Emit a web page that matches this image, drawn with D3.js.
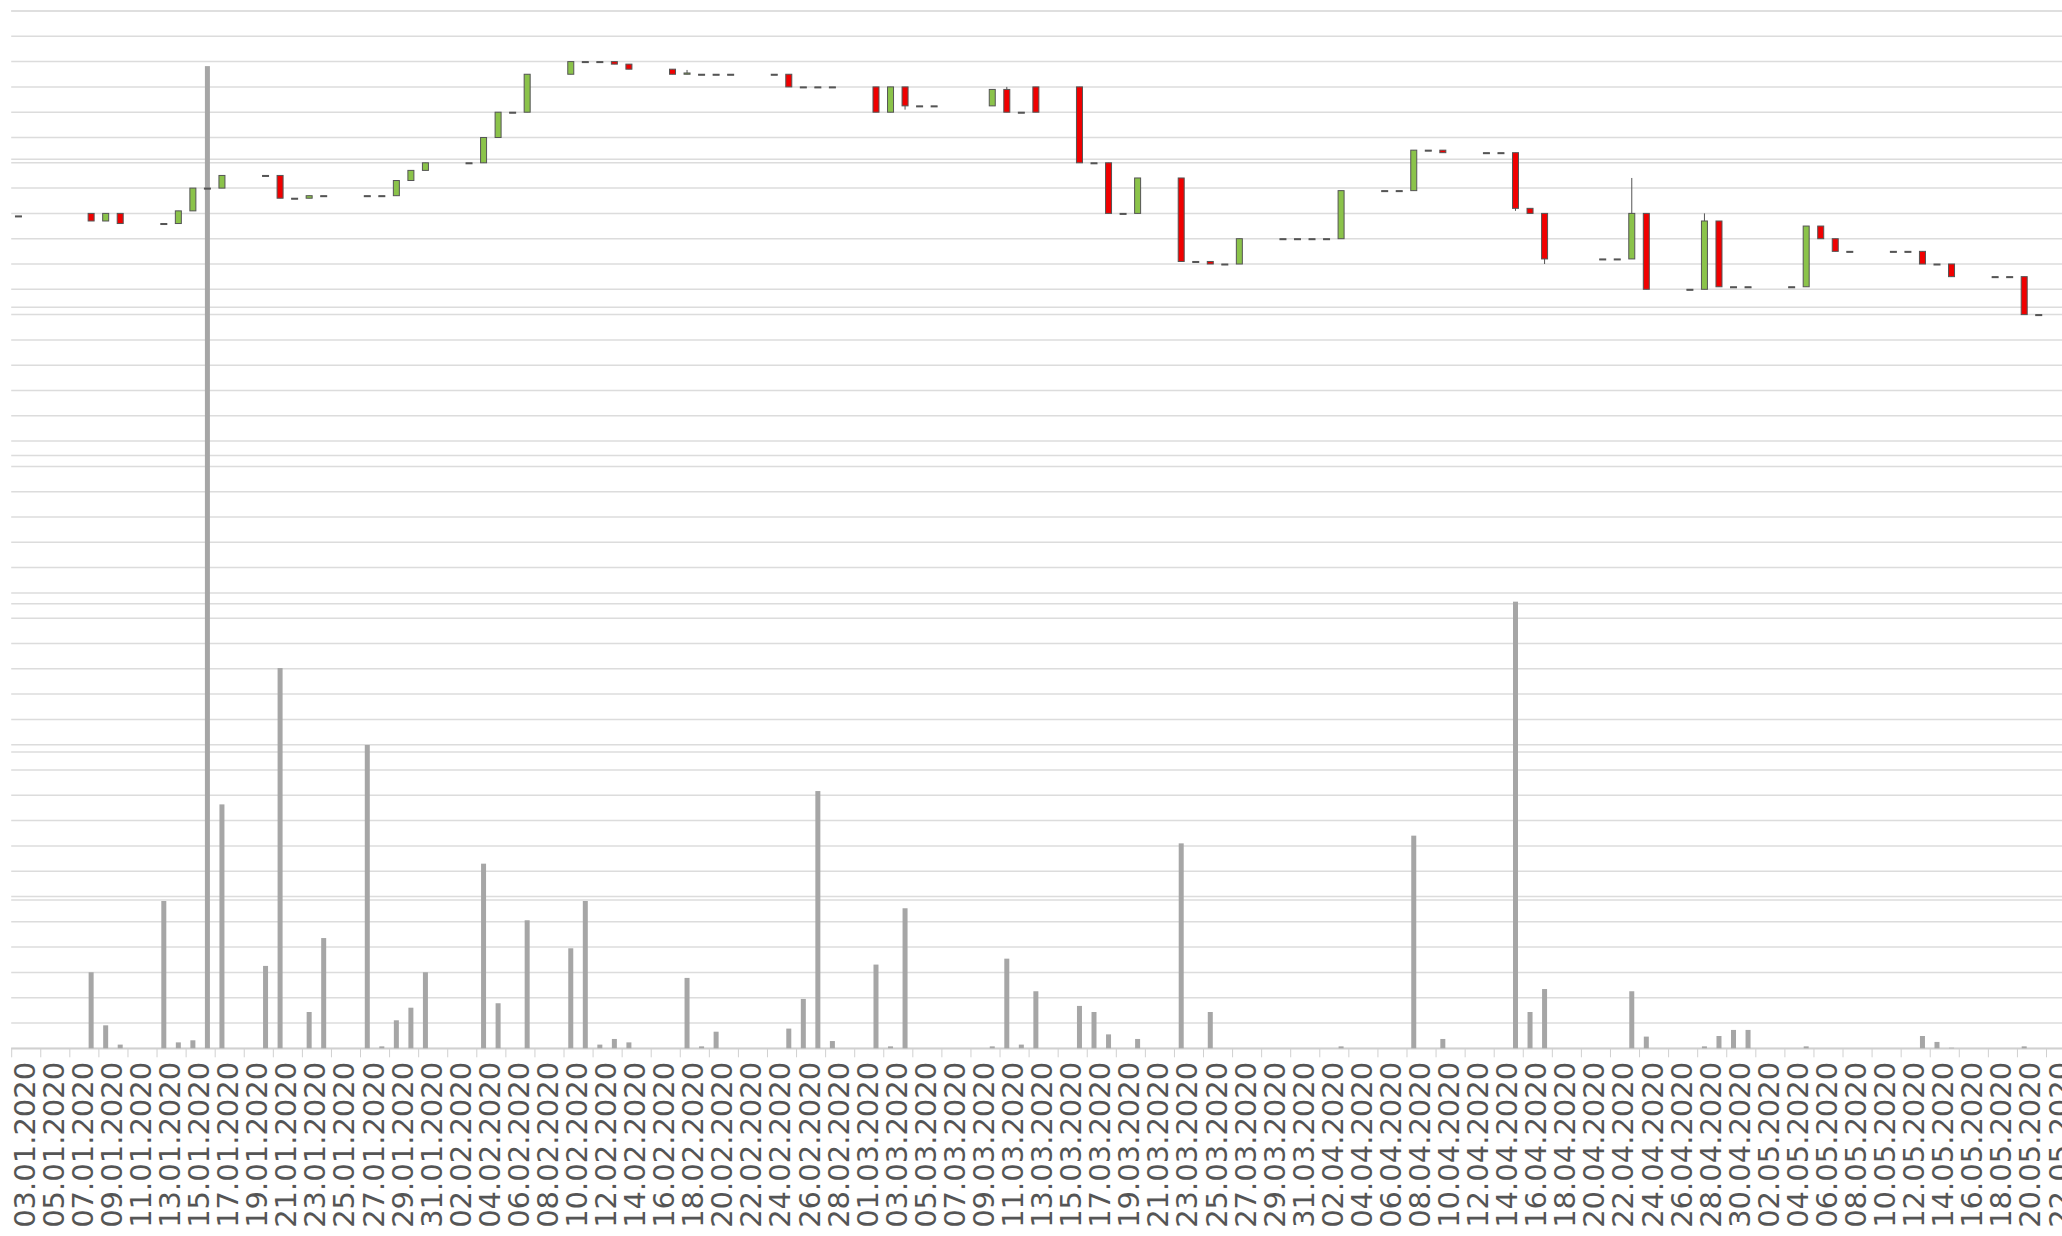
<!DOCTYPE html>
<html><head><meta charset="utf-8">
<script src="https://cdn.jsdelivr.net/npm/d3@7"></script>
<style>html,body{margin:0;padding:0;background:#fff;overflow:hidden}</style>
</head><body>
<svg id="chart" width="2062" height="1236"></svg>
<script>
// ---- data ----
const dates = ["03.01.2020","08.01.2020","09.01.2020","10.01.2020","13.01.2020","14.01.2020","15.01.2020","16.01.2020","17.01.2020",
"20.01.2020","21.01.2020","22.01.2020","23.01.2020","24.01.2020","27.01.2020","28.01.2020","29.01.2020","30.01.2020","31.01.2020",
"03.02.2020","04.02.2020","05.02.2020","06.02.2020","07.02.2020","10.02.2020","11.02.2020","12.02.2020","13.02.2020","14.02.2020",
"17.02.2020","18.02.2020","19.02.2020","20.02.2020","21.02.2020","24.02.2020","25.02.2020","26.02.2020","27.02.2020","28.02.2020",
"02.03.2020","03.03.2020","04.03.2020","05.03.2020","06.03.2020","10.03.2020","11.03.2020","12.03.2020","13.03.2020",
"16.03.2020","17.03.2020","18.03.2020","19.03.2020","20.03.2020","23.03.2020","24.03.2020","25.03.2020","26.03.2020","27.03.2020",
"30.03.2020","31.03.2020","01.04.2020","02.04.2020","03.04.2020","06.04.2020","07.04.2020","08.04.2020","09.04.2020","10.04.2020",
"13.04.2020","14.04.2020","15.04.2020","16.04.2020","17.04.2020","21.04.2020","22.04.2020","23.04.2020","24.04.2020",
"27.04.2020","28.04.2020","29.04.2020","30.04.2020","01.05.2020","04.05.2020","05.05.2020","06.05.2020","07.05.2020","08.05.2020",
"11.05.2020","12.05.2020","13.05.2020","14.05.2020","15.05.2020","18.05.2020","19.05.2020","20.05.2020","21.05.2020"];
const open = [3.29,3.30,3.27,3.30,3.26,3.26,3.31,3.40,3.40,
3.45,3.45,3.36,3.36,3.37,3.37,3.37,3.37,3.43,3.47,
3.50,3.50,3.60,3.70,3.70,3.85,3.90,3.90,3.90,3.89,
3.87,3.85,3.85,3.85,3.85,3.85,3.85,3.80,3.80,3.80,
3.80,3.70,3.80,3.725,3.725,3.725,3.79,3.70,3.80,
3.80,3.50,3.50,3.30,3.30,3.44,3.11,3.11,3.10,3.10,
3.20,3.20,3.20,3.20,3.20,3.39,3.39,3.39,3.55,3.55,
3.54,3.54,3.54,3.32,3.30,3.12,3.12,3.12,3.30,
3.00,3.00,3.27,3.01,3.01,3.01,3.01,3.25,3.20,3.15,
3.15,3.15,3.15,3.10,3.10,3.05,3.05,3.05,2.90];
const high = [3.29,3.30,3.30,3.30,3.26,3.31,3.40,3.40,3.45,
3.45,3.45,3.36,3.37,3.37,3.37,3.37,3.43,3.47,3.50,
3.50,3.60,3.70,3.70,3.85,3.90,3.90,3.90,3.90,3.89,
3.87,3.867,3.85,3.85,3.85,3.85,3.85,3.80,3.80,3.80,
3.80,3.80,3.80,3.725,3.725,3.79,3.80,3.70,3.80,
3.80,3.50,3.50,3.30,3.44,3.44,3.11,3.11,3.10,3.20,
3.20,3.20,3.20,3.20,3.39,3.39,3.39,3.55,3.55,3.55,
3.54,3.54,3.54,3.32,3.30,3.12,3.12,3.44,3.30,
3.00,3.30,3.27,3.01,3.01,3.01,3.25,3.25,3.20,3.15,
3.15,3.15,3.15,3.10,3.10,3.05,3.05,3.05,2.90];
const low = [3.29,3.27,3.27,3.26,3.26,3.26,3.31,3.40,3.40,
3.45,3.36,3.36,3.36,3.37,3.37,3.37,3.37,3.43,3.47,
3.50,3.50,3.60,3.70,3.70,3.85,3.90,3.90,3.89,3.87,
3.85,3.85,3.85,3.85,3.85,3.85,3.80,3.80,3.80,3.80,
3.70,3.70,3.71,3.725,3.725,3.725,3.70,3.70,3.70,
3.50,3.50,3.30,3.30,3.30,3.11,3.11,3.10,3.10,3.10,
3.20,3.20,3.20,3.20,3.20,3.39,3.39,3.39,3.55,3.54,
3.54,3.54,3.31,3.30,3.10,3.12,3.12,3.12,3.00,
3.00,3.00,3.01,3.01,3.01,3.01,3.01,3.20,3.15,3.15,
3.15,3.15,3.10,3.10,3.05,3.05,3.05,2.90,2.90];
const close = [3.29,3.27,3.30,3.26,3.26,3.31,3.40,3.40,3.45,
3.45,3.36,3.36,3.37,3.37,3.37,3.37,3.43,3.47,3.50,
3.50,3.60,3.70,3.70,3.85,3.90,3.90,3.90,3.89,3.87,
3.85,3.855,3.85,3.85,3.85,3.85,3.80,3.80,3.80,3.80,
3.70,3.80,3.725,3.725,3.725,3.79,3.70,3.70,3.70,
3.50,3.50,3.30,3.30,3.44,3.11,3.11,3.10,3.10,3.20,
3.20,3.20,3.20,3.20,3.39,3.39,3.39,3.55,3.55,3.54,
3.54,3.54,3.32,3.30,3.12,3.12,3.12,3.30,3.00,
3.00,3.27,3.01,3.01,3.01,3.01,3.25,3.20,3.15,3.15,
3.15,3.15,3.10,3.10,3.05,3.05,3.05,2.90,2.90];
const volume = [0,513,155,25,994,40,54,6628,1646,
556,2566,0,245,744,2047,13,189,274,513,
0,1246,304,0,864,675,994,25,63,40,
0,475,13,112,0,0,133,333,1736,49,
565,13,945,0,0,13,605,25,385,
286,245,94,0,63,1383,0,245,0,0,
0,0,0,0,13,0,0,1435,0,63,
0,0,3014,245,400,0,0,385,79,
0,13,83,124,124,0,13,0,0,0,
0,0,83,43,4,0,0,13,0];
const priceTicks = d3.range(0, 42).map(i => i / 10);
const volumeTicks = [0,1000,2000,3000,4000,5000,6000,7000];
const axisStart = "03.01.2020", axisEnd = "22.05.2020";

// ---- layout ----
const W = 2062, H = 1236;
const plotLeft = 11.2, plotTop = 11, plotBottom = 1048.3;
const parse = d3.timeParse("%d.%m.%Y");
const fmt = d3.timeFormat("%d.%m.%Y");
const x = d3.scaleTime().domain([parse(axisStart), parse(axisEnd)]).range([plotLeft, 2046]);
const yP = d3.scaleLinear().domain([0, 4.1]).range([plotBottom, plotTop]);
const yV = d3.scaleLinear().domain([0, 7000]).range([plotBottom, plotTop]);

const data = dates.map((d, i) => ({date: parse(d), o: open[i], h: high[i], l: low[i], c: close[i], v: volume[i]}));
const cx = d => x(d3.timeHour.offset(d.date, 12));

const svg = d3.select("#chart");

// grids
svg.append("g").selectAll("line").data(priceTicks).join("line")
  .attr("x1", plotLeft).attr("x2", W).attr("y1", d => yP(d)).attr("y2", d => yP(d))
  .attr("stroke", "#dcdcdc").attr("stroke-width", 1.5);
svg.append("g").selectAll("line").data(volumeTicks).join("line")
  .attr("x1", plotLeft).attr("x2", W).attr("y1", d => yV(d)).attr("y2", d => yV(d))
  .attr("stroke", "#dcdcdc").attr("stroke-width", 1.5);

// x axis
const tickDates = d3.timeDay.range(parse(axisStart), d3.timeDay.offset(parse(axisEnd), 1), 2);
const ax = svg.append("g").attr("transform", `translate(0,${plotBottom})`)
  .call(d3.axisBottom(x).tickValues(tickDates).tickFormat(fmt).tickSize(9).tickSizeOuter(0));
ax.select(".domain").attr("stroke", "#d0d0d0").attr("stroke-width", 1.5).attr("d", `M${plotLeft},0.5H${W}`);
ax.selectAll(".tick line").attr("stroke", "#d0d0d0");
ax.selectAll(".tick text")
  .attr("x", null).attr("y", null).attr("dy", null)
  .attr("text-anchor", "end")
  .attr("transform", "translate(23,13.5) rotate(-90)")
  .attr("fill", "#555")
  .style("font-family", "'DejaVu Sans', sans-serif")
  .style("font-size", "29px");

// volume
svg.append("g").selectAll("rect").data(data.filter(d => d.v > 0)).join("rect")
  .attr("x", d => cx(d) - 2.5).attr("width", 5)
  .attr("y", d => yV(d.v)).attr("height", d => plotBottom - yV(d.v))
  .attr("fill", "#a6a6a6");

// candles
const cg = svg.append("g");
cg.selectAll("line").data(data).join("line")
  .attr("x1", d => cx(d)).attr("x2", d => cx(d))
  .attr("y1", d => yP(d.h)).attr("y2", d => yP(d.l))
  .attr("stroke", "#555").attr("stroke-width", 1);
cg.selectAll("rect").data(data).join("rect")
  .attr("x", d => cx(d) - 3).attr("width", 6)
  .attr("y", d => yP(Math.max(d.o, d.c)))
  .attr("height", d => Math.max(1, Math.abs(yP(d.o) - yP(d.c))))
  .attr("fill", d => d.c > d.o ? "#8bc34a" : (d.c < d.o ? "#f00000" : "#555"))
  .attr("stroke", "#555").attr("stroke-width", 1);
</script>
</body></html>
